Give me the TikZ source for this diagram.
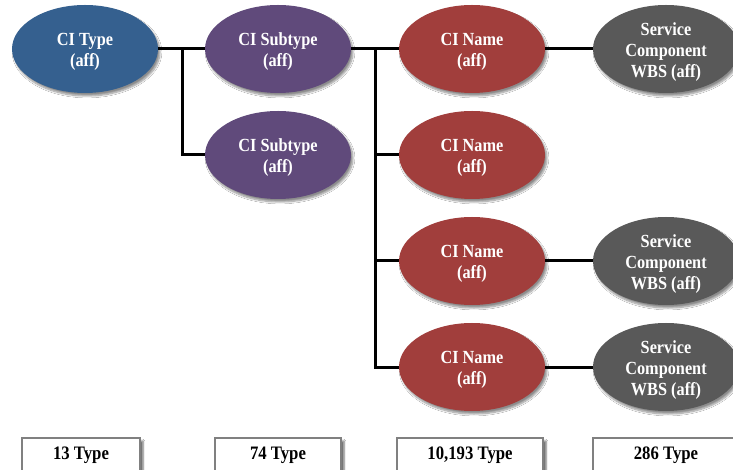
\documentclass[tikz,border=0pt]{standalone}
\usepackage{fontspec}
\setmainfont{Liberation Serif}[FakeStretch=0.88]
\usetikzlibrary{shapes.geometric,shadows.blur}

\definecolor{typeblue}{HTML}{35608F}
\definecolor{subpurple}{HTML}{604A7B}
\definecolor{namered}{HTML}{A13E3C}
\definecolor{svcgray}{HTML}{595959}
\definecolor{boxline}{HTML}{808080}

\tikzset{
  bubble/.style={ellipse, minimum width=146bp, minimum height=88bp, inner sep=0pt,
    blur shadow={shadow xshift=2bp, shadow yshift=-3bp, shadow blur steps=8, shadow opacity=45}},
  % caption inside a bubble, set a little below its centre
  bubbletext/.style={text=white, align=center, inner sep=0pt, yshift=-3bp,
    font=\fontsize{18.5bp}{21bp}\selectfont\bfseries},
  citype/.style={bubble, fill=typeblue},
  cisub/.style={bubble, fill=subpurple},
  ciname/.style={bubble, fill=namered},
  svc/.style={bubble, fill=svcgray},
  countbox/.style={rectangle, draw=boxline, line width=2bp, fill=white, minimum height=34bp,
    inner sep=0pt, font=\fontsize{19bp}{21bp}\selectfont\bfseries,
    blur shadow={shadow xshift=3bp, shadow yshift=-3bp, shadow blur steps=4, shadow opacity=60}},
  link/.style={draw=black, line width=3bp}
}

\begin{document}
\begin{tikzpicture}[x=1bp,y=-1bp]
\useasboundingbox[fill=white] (0,0) rectangle (733,470);

% hierarchy levels
\node[citype, label={[bubbletext]center:{CI Type\\(aff)}}] (type) at (85,49) {};

\node[cisub, label={[bubbletext]center:{CI Subtype\\(aff)}}] (sub1) at (278,49) {};
\node[cisub, label={[bubbletext]center:{CI Subtype\\(aff)}}] (sub2) at (278,155) {};

\node[ciname, label={[bubbletext]center:{CI Name\\(aff)}}] (name1) at (472,49) {};
\node[ciname, label={[bubbletext]center:{CI Name\\(aff)}}] (name2) at (472,155) {};
\node[ciname, label={[bubbletext]center:{CI Name\\(aff)}}] (name3) at (472,261) {};
\node[ciname, label={[bubbletext]center:{CI Name\\(aff)}}] (name4) at (472,367) {};

\node[svc, label={[bubbletext]center:{Service\\Component\\WBS (aff)}}] (svc1) at (666,49) {};
\node[svc, label={[bubbletext]center:{Service\\Component\\WBS (aff)}}] (svc3) at (666,261) {};
\node[svc, label={[bubbletext]center:{Service\\Component\\WBS (aff)}}] (svc4) at (666,367) {};

% branch points of the tree
\coordinate (j1) at (182,49);
\coordinate (j2) at (375,49);

% connectors
\draw[link] (type.east) -- (sub1.west);
\draw[link] (j1) |- (sub2.west);
\draw[link] (sub1.east) -- (name1.west);
\draw[link] (j2) |- (name2.west);
\draw[link] (j2) |- (name3.west);
\draw[link] (j2) |- (name4.west);
\draw[link] (name1.east) -- (svc1.west);
\draw[link] (name3.east) -- (svc3.west);
\draw[link] (name4.east) -- (svc4.west);

% counts per level
\node[countbox, minimum width=118bp] (c1) at (81,455) {13 Type};
\node[countbox, minimum width=126bp] (c2) at (278,455) {74 Type};
\node[countbox, minimum width=146bp] (c3) at (470,455) {10,193 Type};
\node[countbox, minimum width=146bp] (c4) at (666,455) {286 Type};
\end{tikzpicture}
\end{document}
